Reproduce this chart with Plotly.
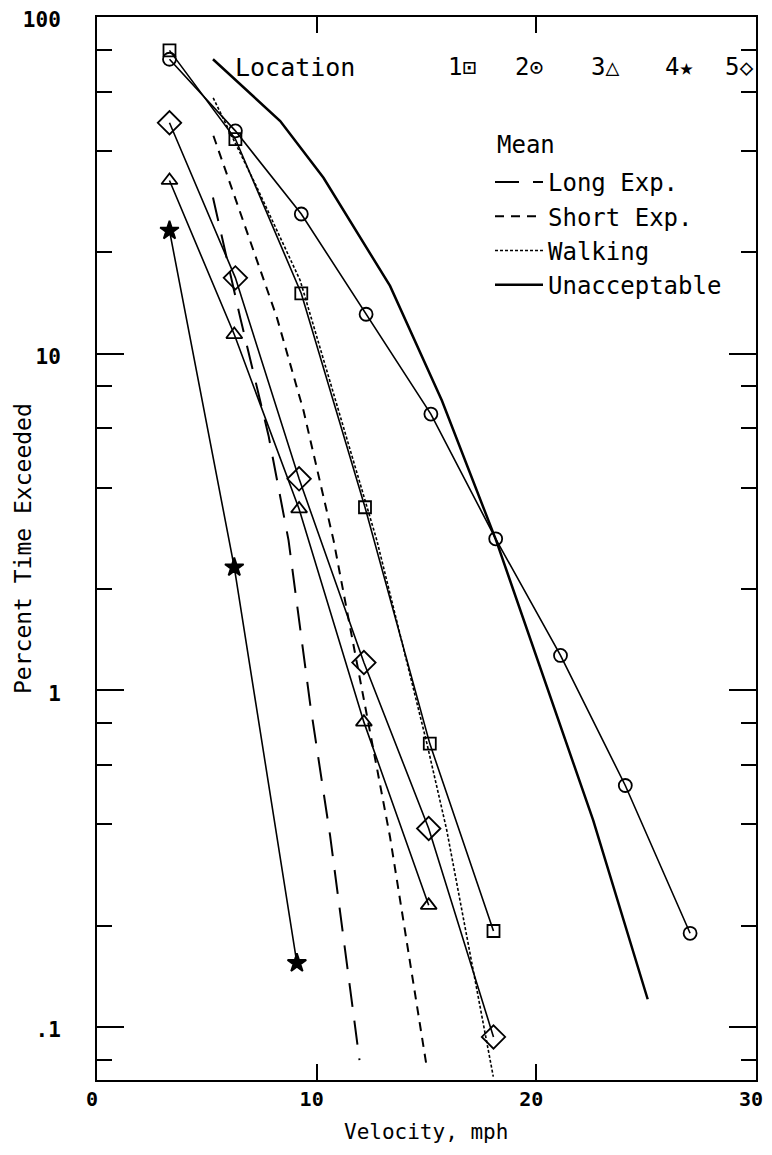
import plotly.graph_objects as go

# ---------------- data ----------------
loc1_v = [3.3, 6.3, 9.3, 12.2, 15.15, 18.05]
loc1_p = [79.6, 43.4, 15.1, 3.50, 0.695, 0.193]

loc2_v = [3.3, 6.3, 9.3, 12.25, 15.2, 18.15, 21.1, 24.05, 27.0]
loc2_p = [74.9, 45.9, 26.0, 13.1, 6.62, 2.82, 1.27, 0.522, 0.190]

loc3_v = [3.3, 6.25, 9.2, 12.15, 15.1]
loc3_p = [32.7, 11.4, 3.46, 0.805, 0.230]

loc4_v = [3.3, 6.25, 9.1]
loc4_p = [23.2, 2.32, 0.155]

loc5_v = [3.3, 6.3, 9.2, 12.15, 15.1, 18.05]
loc5_p = [48.5, 16.8, 4.25, 1.21, 0.389, 0.0935]

long_v = [5.28, 6.52, 7.81, 8.72, 9.70, 10.61, 11.95]
long_p = [29.1, 12.8, 5.71, 2.79, 0.915, 0.371, 0.0798]

short_v = [5.30, 8.19, 9.40, 10.77, 13.34, 15.02]
short_p = [44.4, 12.8, 6.78, 2.79, 0.367, 0.0755]

walk_v = [5.29, 7.28, 9.25, 12.74, 15.02, 15.92, 18.04]
walk_p = [57.5, 31.2, 16.5, 2.79, 0.695, 0.385, 0.0713]

unacc_v = [5.28, 8.34, 10.31, 13.34, 15.7, 18.17, 22.59, 25.07]
unacc_p = [74.9, 49.1, 33.3, 15.9, 7.26, 2.79, 0.411, 0.121]

loc_names = ["1", "2", "3", "4", "5"]
loc_symbols_text = ["⊡", "⊙", "△", "★", "◇"]

x_tickvals = [0, 10, 20, 30]
y_tickvals = [0.1, 1, 10, 100]
y_ticktext = [".1", "1", "10", "100"]
y_minor = [0.08, 0.2, 0.4, 0.6, 0.8, 2, 4, 6, 8, 20, 40, 60, 80]

# ---------------- figure ----------------
TXT = "DejaVu Sans Mono"
fig = go.Figure()

locs = [
    (loc1_v, loc1_p, "square-open", 12),
    (loc2_v, loc2_p, "circle-open", 13),
    (loc3_v, loc3_p, "triangle-up-open", 14),
    (loc4_v, loc4_p, "star", 14),
    (loc5_v, loc5_p, "diamond-open", 18),
]
for (v, p, sym, sz), name in zip(locs, loc_names):
    fig.add_trace(go.Scatter(
        x=v, y=p, mode="lines+markers", name="Location " + name,
        showlegend=False,
        line=dict(color="black", width=1.6),
        marker=dict(symbol=sym, size=sz, color="black",
                    line=dict(color="black", width=1.8)),
    ))

means = [
    (long_v, long_p, "Long Exp.", dict(color="black", width=2, dash="24px,14px")),
    (short_v, short_p, "Short Exp.", dict(color="black", width=2, dash="9px,7px")),
    (walk_v, walk_p, "Walking", dict(color="black", width=1.6, dash="3px,2px")),
    (unacc_v, unacc_p, "Unacceptable", dict(color="black", width=2.5)),
]
for i, (v, p, name, ln) in enumerate(means):
    fig.add_trace(go.Scatter(
        x=v, y=p, mode="lines", name=name, line=ln, showlegend=True,
    ))

# page has an 8px body margin; size the figure so the plot box lands where the reference has it
OFF = 8
W, H = 772 - 2 * OFF, 1155 - 2 * OFF
PLOT_L, PLOT_R, PLOT_T, PLOT_B = 97, 756, 17, 1080   # plot box in page pixels
L = PLOT_L - OFF
T = PLOT_T - OFF
R = OFF + W - PLOT_R
B = OFF + H - PLOT_B
pw, ph = W - L - R, H - T - B


def px2paper(x, y):
    return (x - PLOT_L) / pw, (PLOT_B - y) / ph


annotations = []
ax, ay = px2paper(233, 67)
annotations.append(dict(text="Location", x=ax, y=ay, xref="paper", yref="paper",
                        xanchor="left", yanchor="middle", showarrow=False,
                        font=dict(family=TXT, size=25, color="black")))
for cx, n, s in zip([462, 529, 605, 679, 739], loc_names, loc_symbols_text):
    ax, ay = px2paper(cx, 67)
    annotations.append(dict(
        text=n + "<span style='font-size:23px'>" + s + "</span>",
        x=ax, y=ay, xref="paper", yref="paper", xanchor="center", yanchor="middle",
        showarrow=False, font=dict(family=TXT, size=24, color="black")))

ax, ay = px2paper(495, 145)
annotations.append(dict(text="Mean", x=ax, y=ay, xref="paper", yref="paper",
                        xanchor="left", yanchor="middle", showarrow=False,
                        font=dict(family=TXT, size=24, color="black")))

ax, ay = px2paper(426, 1132)
annotations.append(dict(text="Velocity, mph", x=ax, y=ay, xref="paper", yref="paper",
                        xanchor="center", yanchor="middle", showarrow=False,
                        font=dict(family=TXT, size=21, color="black")))
ax, ay = px2paper(23, 549)
annotations.append(dict(text="Percent Time Exceeded", x=ax, y=ay, xref="paper", yref="paper",
                        xanchor="center", yanchor="middle", showarrow=False, textangle=-90,
                        font=dict(family=TXT, size=23, color="black")))

lx, ly = px2paper(490, 160)
fig.update_layout(
    width=W, height=H,
    margin=dict(l=L, r=R, t=T, b=B, autoexpand=False),
    paper_bgcolor="white", plot_bgcolor="white",
    annotations=annotations,
    legend=dict(
        x=lx, y=ly, xanchor="left", yanchor="top",
        font=dict(family=TXT, size=24, color="black"),
        bgcolor="rgba(0,0,0,0)", borderwidth=0,
        tracegroupgap=0, itemwidth=48,
    ),
    xaxis=dict(
        range=[0, 30], tickvals=x_tickvals, ticks="inside", ticklen=16, tickwidth=2,
        tickcolor="black", showline=True, linecolor="black", linewidth=2, mirror="ticks",
        showgrid=False, zeroline=False, automargin=False,
        tickfont=dict(family=TXT, size=20, color="black", weight="bold"),
        ticklabelstandoff=0, ticklabeloverflow="allow", ticklabelshift=-5,
    ),
    yaxis=dict(
        type="log", range=[-1.157, 2.0], tickvals=y_tickvals, ticktext=y_ticktext,
        ticks="inside", ticklen=27, tickwidth=2, tickcolor="black",
        showline=True, linecolor="black", linewidth=2, mirror="ticks",
        showgrid=False, zeroline=False, automargin=False,
        tickfont=dict(family=TXT, size=21, color="black", weight="bold"),
        ticklabelstandoff=30, ticklabeloverflow="allow", ticklabelshift=3,
        minor=dict(tickvals=y_minor, ticks="inside", ticklen=15, tickwidth=2,
                   tickcolor="black", showgrid=False),
    ),
)

fig.write_html("out.html")
